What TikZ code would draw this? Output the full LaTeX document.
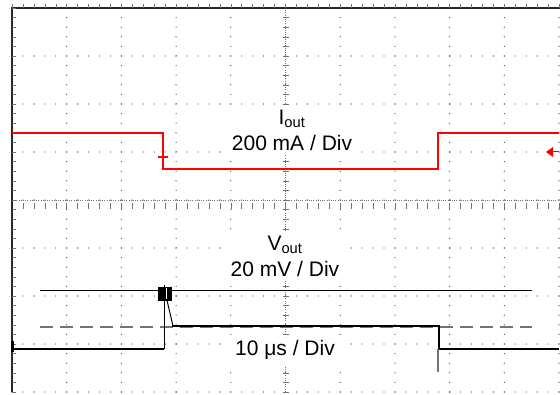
\documentclass[tikz,border=0pt]{standalone}
\usepackage{fontspec}
\setmainfont{Liberation Sans}

\begin{document}
\begin{tikzpicture}[
  x=1pt, y=-1pt,
  griddot/.style={fill=black!70},
  frameline/.style={draw=black!85, line width=1.1pt},
  axistick/.style={draw=black!55, line width=0.5pt},
  itrace/.style={draw=red, line width=1.3pt},
  vtrace/.style={draw=black, line width=2.2pt},
  refline/.style={draw=black, line width=0.9pt},
  limline/.style={draw=black!55, line width=1.6pt, dash pattern=on 13pt off 7pt},
  divlabel/.style={font=\fontsize{21}{26}\selectfont, align=center, fill=white, inner xsep=9pt, inner ysep=5pt}
]
\useasboundingbox (0,0) rectangle (560,395);

% Grid dots on the major rows and columns
\foreach \k in {0,...,8}
  \foreach \i in {0,...,50}
    \fill[griddot] (12+\i*10.94, 8+\k*48) circle (0.65);
\foreach \j in {0,...,10}
  \foreach \i in {0,...,40}
    \fill[griddot] (12+\j*54.7, 8+\i*9.6) circle (0.65);

% Centre axes with ticks
\draw[axistick, dash pattern=on 0.8pt off 1.4pt] (12,200) -- (559,200);
\draw[axistick, dash pattern=on 0.8pt off 1.4pt] (285.5,8) -- (285.5,392);
\foreach \i in {0,...,50}
  \draw[axistick] (12+\i*10.94,203) -- ++(0,6);
\foreach \i in {0,...,40}
  \draw[axistick] (282.5,8+\i*9.6) -- ++(6,0);

% Frame
\draw[frameline] (12,392) -- (12,8) -- (560,8);
\foreach \i in {0,...,40}
  \draw[axistick] (12,8+\i*9.6) -- ++(4,0);
\foreach \i in {0,...,50}
  \draw[axistick] (12+\i*10.94,8) -- ++(0,-4);

% Scale labels
\node[divlabel] (iout) at (292,130) {I\textsubscript{out}\\200 mA / Div};
\node[divlabel] (vout) at (285,256) {V\textsubscript{out}\\20 mV / Div};
\node[divlabel] (tdiv) at (285,350) {10 μs / Div};

% Output current
\draw[itrace] (12,133) -- (163,133) -- (163,169) -- (438,169) -- (438,133) -- (559,133);
\draw[itrace] (158,157) -- (168,157);
\draw[red, line width=2pt] (163,150) -- (163,168);
\fill[red] (546,152) -- (553,147) -- (553,157) -- cycle;
\draw[red, line width=1pt] (553,152) -- (559,152);

% Output voltage
\draw[refline] (40,290) -- (532,290);
\draw[limline] (40,327) -- (532,327);
\draw[vtrace] (12,349) -- (164,349);
\draw[black, line width=1pt] (164,349) -- (164,285);
\draw[black, line width=1pt] (166,296) -- (173,326);
\draw[vtrace] (172,326) -- (439,326) -- (439,349) -- (559,349);
\draw[black!55, line width=1.5pt] (438,349) -- (438,372);
\draw[black, fill=black] (158,287) rectangle (171,300);
\draw[white, line width=0.8pt] (166.5,288) -- (166.5,299);
\fill[black] (11,341) rectangle (14,352);

\end{tikzpicture}
\end{document}
